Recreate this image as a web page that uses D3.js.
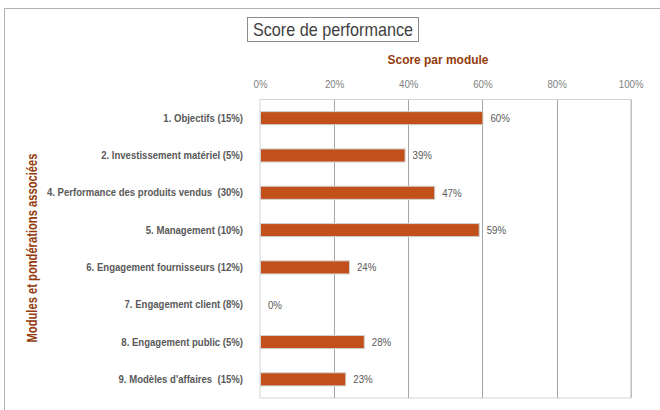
<!DOCTYPE html>
<html lang="fr">
<head>
    <meta charset="UTF-8">
    <title>Score de performance</title>
    <script src="https://d3js.org/d3.v7.min.js"></script>
    <style>
        body { margin: 0; background: #fff; }
        text { font-family: "Liberation Sans", Arial, sans-serif; white-space: pre; }
    </style>
</head>
<body>
<svg></svg>
<script>
    // data
    const modules = [
        "1. Objectifs (15%)",
        "2. Investissement matériel (5%)",
        "4. Performance des produits vendus  (30%)",
        "5. Management (10%)",
        "6. Engagement fournisseurs (12%)",
        "7. Engagement client (8%)",
        "8. Engagement public (5%)",
        "9. Modèles d'affaires  (15%)"
    ];
    const scores = [0.60, 0.39, 0.47, 0.59, 0.24, 0.00, 0.28, 0.23];
    const ticks = [0, 0.2, 0.4, 0.6, 0.8, 1.0];

    const width = 660, height = 410;
    const svg = d3.select("svg").attr("width", width).attr("height", height);

    // no narrow font installed: squeeze text horizontally instead
    function narrow(sel, k) {
        sel.each(function () {
            const t = d3.select(this);
            const xv = +(t.attr("x") || 0);
            t.attr("x", xv / k).attr("transform", `scale(${k},1)`);
        });
    }

    // outer frame
    svg.append("rect")
        .attr("x", 4.5).attr("y", 8.5)
        .attr("width", 700).attr("height", 500)
        .attr("fill", "none").attr("stroke", "#b3b3b3");

    // title box
    svg.append("rect")
        .attr("x", 247.5).attr("y", 17.5)
        .attr("width", 171).attr("height", 24)
        .attr("fill", "#fff").attr("stroke", "#8c8c8c");
    svg.append("text")
        .attr("x", 333).attr("y", 36)
        .attr("text-anchor", "middle")
        .attr("font-size", 18)
        .attr("fill", "#3f3f3f")
        .text("Score de performance")
        .call(narrow, 0.9);

    const plot = {left: 260, right: 630.7, top: 99.5, bottom: 398};

    const x = d3.scaleLinear().domain([0, 1]).range([plot.left, plot.right]);
    const y = d3.scaleBand().domain(modules).range([plot.top, plot.bottom]).paddingInner(0.65).paddingOuter(0.325);

    // plot frame
    svg.append("rect")
        .attr("x", plot.left).attr("y", plot.top)
        .attr("width", plot.right - plot.left).attr("height", plot.bottom - plot.top)
        .attr("fill", "none").attr("stroke", "#d4d4d4");

    // vertical gridlines
    svg.append("g").selectAll("line")
        .data(ticks.slice(1))
        .join("line")
        .attr("x1", d => Math.round(x(d)) + 0.5).attr("x2", d => Math.round(x(d)) + 0.5)
        .attr("y1", plot.top).attr("y2", plot.bottom)
        .attr("stroke", d => d === 1 ? "#c0c0c0" : "#a6a6a6");

    // top axis
    const xAxis = d3.axisTop(x).tickValues(ticks).tickFormat(d3.format(".0%")).tickSize(0).tickPadding(0);
    const gx = svg.append("g").attr("transform", "translate(0,88)").call(xAxis);
    gx.select(".domain").remove();
    gx.selectAll("text").attr("font-size", 11).attr("fill", "#7f7f7f").attr("font-family", null).call(narrow, 0.88);

    svg.append("text")
        .attr("x", 438).attr("y", 64)
        .attr("text-anchor", "middle")
        .attr("font-size", 13).attr("font-weight", "bold")
        .attr("fill", "#943b0c")
        .text("Score par module")
        .call(narrow, 0.92);

    // category labels
    const yAxis = d3.axisLeft(y).tickSize(0).tickPadding(17);
    const gy = svg.append("g").attr("transform", `translate(${plot.left},0)`).call(yAxis);
    gy.select(".domain").remove();
    gy.selectAll("text").attr("font-size", 11).attr("font-weight", "bold").attr("fill", "#595959").attr("font-family", null).call(narrow, 0.87);

    svg.append("g")
        .attr("transform", "translate(37,248) rotate(-90)")
        .append("text")
        .attr("text-anchor", "middle")
        .attr("font-size", 14).attr("font-weight", "bold")
        .attr("fill", "#943b0c")
        .text("Modules et pondérations associées")
        .call(narrow, 0.8);

    // bars
    svg.append("g").selectAll("rect")
        .data(modules.map((m, i) => ({m, v: scores[i]})).filter(d => d.v > 0))
        .join("rect")
        .attr("x", x(0) + 0.5)
        .attr("y", d => y(d.m))
        .attr("width", d => x(d.v) - x(0))
        .attr("height", y.bandwidth())
        .attr("fill", "#c1501a")
        .attr("stroke", "#d0d0d0");

    // value labels
    svg.append("g").selectAll("text")
        .data(scores)
        .join("text")
        .attr("x", d => x(d) + 8)
        .attr("y", (d, i) => y(modules[i]) + y.bandwidth() / 2)
        .attr("dy", "0.35em")
        .attr("font-size", 11)
        .attr("fill", "#595959")
        .text(d => d3.format(".0%")(d))
        .call(narrow, 0.88);
</script>
</body>
</html>
